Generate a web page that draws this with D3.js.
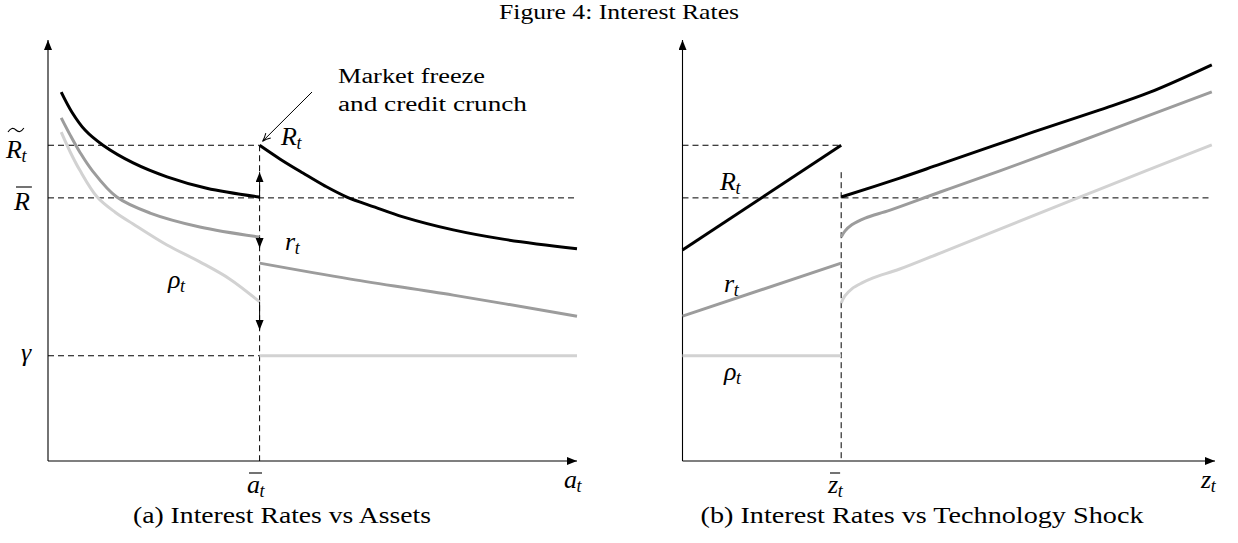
<!DOCTYPE html>
<html>
<head>
<meta charset="utf-8">
<script src="https://cdn.jsdelivr.net/npm/d3@7"></script>
<style>
  body { margin: 0; background: #fff; }
  svg text { font-family: "Liberation Serif", "Times New Roman", serif; fill: #000; }
  .math { font-style: italic; }
</style>
</head>
<body>
<svg id="fig" width="1238" height="543"></svg>
<script>
// ---- data (axes run 0..10 in both panels) ----
var levelRtilde = 7.5, levelRbar = 6.25, levelGamma = 2.5;
var aBar = 4.0, zBar = 2.98;

// panel (a): rates against assets, [a, rate]
var assetsR_left    = [[0.25, 8.76], [0.45, 8.29], [0.70, 7.86], [1.04, 7.5], [1.61, 7.08], [2.25, 6.75], [3.0, 6.48], [4.0, 6.27]];
var assetsR_right   = [[4.0, 7.5], [4.39, 7.17], [4.82, 6.84], [5.24, 6.53], [5.65, 6.27], [6.18, 6.03], [6.71, 5.80], [7.66, 5.49], [8.6, 5.27], [10.0, 5.04]];
var assetsr_left    = [[0.25, 8.15], [0.42, 7.74], [0.60, 7.34], [0.83, 6.91], [1.30, 6.27], [1.93, 5.89], [2.87, 5.56], [4.0, 5.32]];
var assetsr_right   = [[4.0, 4.70], [5.72, 4.32], [7.66, 3.94], [10.0, 3.44]];
var assetsRho_left  = [[0.25, 7.81], [0.42, 7.34], [0.60, 6.91], [0.93, 6.27], [1.27, 5.91], [1.61, 5.63], [2.25, 5.13], [2.87, 4.73], [3.44, 4.32], [4.0, 3.78]];
var assetsRho_right = [[4.0, 2.5], [10.0, 2.5]];
// jumps at a-bar: [from, to]
var jumpArrows = [[6.25, 6.86], [5.32, 5.06], [3.78, 3.11]];

// panel (b): rates against technology shock, [z, rate]
var techR_left    = [[0, 5.01], [2.98, 7.5]];
var techR_right   = [[2.98, 6.27], [4.08, 6.72], [4.84, 7.05], [6.58, 7.81], [7.84, 8.34], [8.78, 8.76], [9.94, 9.41]];
var techr_left    = [[0, 3.44], [2.98, 4.70]];
var techr_right   = [[2.98, 5.32], [3.05, 5.46], [3.18, 5.61], [3.43, 5.77], [3.90, 5.96], [4.84, 6.39], [5.96, 6.89], [7.84, 7.77], [9.94, 8.77]];
var techRho_left  = [[0, 2.5], [2.98, 2.5]];
var techRho_right = [[2.98, 3.75], [3.05, 3.92], [3.18, 4.09], [3.37, 4.23], [3.58, 4.35], [4.08, 4.56], [4.84, 4.94], [5.96, 5.51], [7.84, 6.46], [9.94, 7.51]];

var colR = "#000", colr = "#9c9c9c", colRho = "#d2d2d2";

var svg = d3.select("#fig");

var defs = svg.append("defs");
defs.append("marker").attr("id", "tri")
    .attr("markerUnits", "userSpaceOnUse")
    .attr("markerWidth", 12).attr("markerHeight", 10)
    .attr("refX", 10).attr("refY", 4).attr("orient", "auto")
  .append("path").attr("d", "M0,0 L10,4 L0,8 Z").attr("fill", "#000");
defs.append("marker").attr("id", "open")
    .attr("markerUnits", "userSpaceOnUse")
    .attr("markerWidth", 12).attr("markerHeight", 10)
    .attr("refX", 9).attr("refY", 4).attr("orient", "auto")
  .append("path").attr("d", "M1,0.5 Q5,3 9,4 Q5,5 1,7.5").attr("fill", "none").attr("stroke", "#000").attr("stroke-width", 1);

var y = d3.scaleLinear().domain([0, 10]).range([461, 40]);
var xa = d3.scaleLinear().domain([0, 10]).range([48, 577]);
var xb = d3.scaleLinear().domain([0, 10]).range([682.5, 1215]);

// ---- helpers ----
function drawAxes(g, x) {
  g.append("line")
      .attr("x1", x(0)).attr("y1", y(0)).attr("x2", x(0)).attr("y2", y(10))
      .attr("stroke", "#000").attr("stroke-width", 1.1).attr("marker-end", "url(#tri)");
  g.append("line")
      .attr("x1", x(0)).attr("y1", y(0)).attr("x2", x(10)).attr("y2", y(0))
      .attr("stroke", "#000").attr("stroke-width", 1.1).attr("marker-end", "url(#tri)");
}

function dashed(g, x1, y1, x2, y2) {
  g.append("line")
      .attr("x1", x1).attr("y1", y1).attr("x2", x2).attr("y2", y2)
      .attr("stroke", "#000").attr("stroke-width", 1)
      .attr("stroke-dasharray", "6,4");
}

function curve(g, x, data, color) {
  var line = d3.line()
      .x(function(d) { return x(d[0]); })
      .y(function(d) { return y(d[1]); })
      .curve(d3.curveCatmullRom.alpha(0.5));
  g.append("path")
      .datum(data)
      .attr("d", line)
      .attr("fill", "none")
      .attr("stroke", color)
      .attr("stroke-width", 3);
}

// math label: base letter, optional subscript, optional accent ("tilde" / "bar")
function mathLabel(g, pos, base, sub, accent, accentY) {
  var t = g.append("text").attr("class", "math")
      .attr("x", pos[0]).attr("y", pos[1]).attr("font-size", 26);
  t.append("tspan").text(base);
  var w = t.node().getComputedTextLength();
  if (sub) t.append("tspan").attr("font-size", 18).attr("dy", 4).attr("dx", -0.5).text(sub);
  var x0 = pos[0] + 2, x1 = pos[0] + w + 2;
  if (accent == "bar") {
    g.append("line").attr("x1", x0).attr("x2", x1)
        .attr("y1", accentY).attr("y2", accentY)
        .attr("stroke", "#000").attr("stroke-width", 1.1);
  } else if (accent == "tilde") {
    var ww = x1 - x0;
    g.append("path")
        .attr("d", "M" + x0 + "," + (accentY + 2) +
          " Q" + (x0 + ww * 0.25) + "," + (accentY - 4) + " " + (x0 + ww * 0.5) + "," + accentY +
          " Q" + (x0 + ww * 0.75) + "," + (accentY + 4) + " " + x1 + "," + (accentY - 2))
        .attr("fill", "none").attr("stroke", "#000").attr("stroke-width", 1.1);
  }
}

// ---- title ----
svg.append("text")
    .attr("x", 619).attr("y", 19)
    .attr("text-anchor", "middle")
    .attr("font-size", 22)
    .attr("textLength", 240).attr("lengthAdjust", "spacingAndGlyphs")
    .text("Figure 4: Interest Rates");

// ---- panel (a) ----
var ga = svg.append("g");
dashed(ga, xa(0), y(levelRtilde), xa(aBar), y(levelRtilde));
dashed(ga, xa(0), y(levelRbar), xa(10), y(levelRbar));
dashed(ga, xa(0), y(levelGamma), xa(aBar), y(levelGamma));
dashed(ga, xa(aBar), y(levelRtilde), xa(aBar), y(0));
drawAxes(ga, xa);

curve(ga, xa, assetsRho_left, colRho);
curve(ga, xa, assetsRho_right, colRho);
curve(ga, xa, assetsr_left, colr);
curve(ga, xa, assetsr_right, colr);
curve(ga, xa, assetsR_left, colR);
curve(ga, xa, assetsR_right, colR);

jumpArrows.forEach(function(j) {
  ga.append("line")
      .attr("x1", xa(aBar)).attr("y1", y(j[0]))
      .attr("x2", xa(aBar)).attr("y2", y(j[1]))
      .attr("stroke", "#000").attr("stroke-width", 1)
      .attr("marker-end", "url(#tri)");
});

// annotation
ga.append("line")
    .attr("x1", 312).attr("y1", 92).attr("x2", xa(aBar) + 3).attr("y2", y(levelRtilde) - 4)
    .attr("stroke", "#000").attr("stroke-width", 1)
    .attr("marker-end", "url(#open)");
ga.append("text").attr("x", 338).attr("y", 83).attr("font-size", 20)
    .attr("textLength", 147).attr("lengthAdjust", "spacingAndGlyphs")
    .text("Market freeze");
ga.append("text").attr("x", 338).attr("y", 111).attr("font-size", 20)
    .attr("textLength", 189).attr("lengthAdjust", "spacingAndGlyphs")
    .text("and credit crunch");

mathLabel(ga, [6, 158], "R", "t", "tilde", 130);
mathLabel(ga, [14, 210], "R", null, "bar", 187);
mathLabel(ga, [21, 361], "\u03b3", null);
mathLabel(ga, [281, 145], "R", "t");
mathLabel(ga, [285, 250], "r", "t");
mathLabel(ga, [168, 288], "\u03c1", "t");
mathLabel(ga, [247, 493], "a", "t", "bar", 473);
mathLabel(ga, [564, 488], "a", "t");

ga.append("text")
    .attr("x", 282).attr("y", 523)
    .attr("text-anchor", "middle").attr("font-size", 23)
    .attr("textLength", 298).attr("lengthAdjust", "spacingAndGlyphs")
    .text("(a) Interest Rates vs Assets");

// ---- panel (b) ----
var gb = svg.append("g");
dashed(gb, xb(0), y(levelRtilde), xb(zBar), y(levelRtilde));
dashed(gb, xb(0), y(levelRbar), xb(9.94), y(levelRbar));
dashed(gb, xb(zBar), y(6.86), xb(zBar), y(0));
drawAxes(gb, xb);

curve(gb, xb, techRho_left, colRho);
curve(gb, xb, techRho_right, colRho);
curve(gb, xb, techr_left, colr);
curve(gb, xb, techr_right, colr);
curve(gb, xb, techR_left, colR);
curve(gb, xb, techR_right, colR);

mathLabel(gb, [720, 190], "R", "t");
mathLabel(gb, [724, 292], "r", "t");
mathLabel(gb, [724, 380], "\u03c1", "t");
mathLabel(gb, [828, 493], "z", "t", "bar", 473);
mathLabel(gb, [1201, 488], "z", "t");

gb.append("text")
    .attr("x", 922).attr("y", 523)
    .attr("text-anchor", "middle").attr("font-size", 23)
    .attr("textLength", 443).attr("lengthAdjust", "spacingAndGlyphs")
    .text("(b) Interest Rates vs Technology Shock");
</script>
</body>
</html>
